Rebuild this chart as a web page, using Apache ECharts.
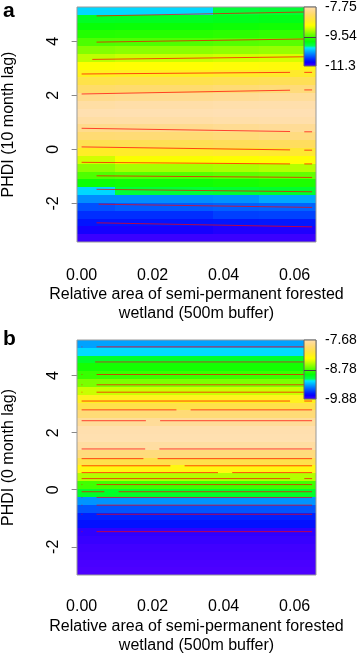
<!DOCTYPE html>
<html>
<head>
<meta charset="utf-8">
<title>PHDI surface</title>
<script src="https://cdn.jsdelivr.net/npm/echarts@6.0.0/dist/echarts.min.js"></script>
<style>
    html, body { margin: 0; padding: 0; background: #fff; }
    #main { width: 358px; height: 656px; }
</style>
</head>
<body>
<div id="main"></div>
<script>
var FONT = 'Liberation Sans, Arial, sans-serif';

/*axis ticks*/
var xTicks = [0, 0.01, 0.02, 0.03, 0.04, 0.05, 0.06];
var xLabels = [0, 0.02, 0.04, 0.06];
var yTicks = [-2, 0, 2, 4];
var legendLabelsA = ['-11.3', '-9.54', '-7.75'];
var legendLabelsB = ['-9.88', '-8.78', '-7.68'];
var zRangeA = [-11.3, -7.75];
var zRangeB = [-9.88, -7.68];

/*topo.colors, low -> high*/
var topoColors = ['#4D00FF', '#2B00FF', '#0900FF', '#001AFF', '#003CFF', '#005EFF', '#0080FF', '#00A2FF', '#00C4FF', '#00E6FF',
    '#00FF4D', '#00FF2B', '#00FF09', '#1AFF00', '#3CFF00', '#5EFF00', '#80FF00', '#A2FF00', '#C4FF00', '#E6FF00',
    '#FFFF00', '#FFF514', '#FFEC28', '#FFE53B', '#FFE04F', '#FFDC63', '#FFDB77', '#FFDB8B', '#FFDD9F', '#FFE0B3'];

/*panel a grid (rows top -> bottom)*/
var xEdgesA = [-0.0013, 0.0095, 0.037, 0.050, 0.066];
var yEdgesA = [5.27, 4.98, 4.69, 4.40, 4.11, 3.82, 3.53, 3.24, 2.95, 2.66, 2.37, 2.08, 1.79, 1.50, 1.21, 0.92,
    0.63, 0.34, 0.05, -0.24, -0.53, -0.82, -1.11, -1.40, -1.69, -1.98, -2.27, -2.56, -2.85, -3.14, -3.43];
var zA = [
    [-10.25, -10.25, -10.00, -9.98],
    [-9.93, -9.92, -9.90, -9.88],
    [-9.80, -9.79, -9.77, -9.75],
    [-9.68, -9.67, -9.65, -9.63],
    [-9.53, -9.52, -9.50, -9.48],
    [-9.33, -9.30, -9.28, -9.26],
    [-9.12, -9.08, -9.05, -9.03],
    [-8.86, -8.84, -8.81, -8.79],
    [-8.66, -8.63, -8.60, -8.58],
    [-8.40, -8.38, -8.35, -8.32],
    [-8.20, -8.17, -8.13, -8.10],
    [-7.98, -7.96, -7.93, -7.90],
    [-7.84, -7.82, -7.80, -7.79],
    [-7.77, -7.76, -7.75, -7.75],
    [-7.84, -7.83, -7.81, -7.80],
    [-7.99, -7.98, -7.95, -7.93],
    [-8.14, -8.13, -8.10, -8.07],
    [-8.35, -8.33, -8.30, -8.27],
    [-8.62, -8.60, -8.57, -8.54],
    [-9.05, -8.88, -8.86, -8.83],
    [-9.30, -9.20, -9.18, -9.15],
    [-9.52, -9.50, -9.47, -9.45],
    [-9.78, -9.76, -9.73, -9.70],
    [-10.25, -10.00, -9.98, -9.96],
    [-10.52, -10.52, -10.50, -10.42],
    [-10.74, -10.70, -10.68, -10.67],
    [-10.86, -10.86, -10.80, -10.79],
    [-10.96, -10.96, -10.95, -10.94],
    [-11.10, -11.10, -11.13, -11.13],
    [-11.23, -11.23, -11.23, -11.23]
];
// level, x0, y0, x1, y1, labelX, labelY
var contourA = [
    [-10, 0.0042, 4.94, 0.0649, 5.09, 0.0022, 4.94],
    [-9.5, 0.0042, 3.97, 0.0649, 4.09, 0.0022, 3.97],
    [-9, 0.0030, 3.33, 0.0649, 3.43, 0.0015, 3.33],
    [-8.5, 0, 2.79, 0.0587, 2.85, 0.0607, 2.85],
    [-8, 0, 2.05, 0.0587, 2.19, 0.0607, 2.20],
    [-8, 0, 0.78, 0.0587, 0.66, 0.0607, 0.65],
    [-8.5, 0, 0.09, 0.0587, -0.02, 0.0607, -0.03],
    [-9, 0, -0.48, 0.0587, -0.54, 0.0607, -0.54],
    [-9.5, 0.0042, -0.98, 0.0649, -1.04, 0.0022, -0.98],
    [-10, 0.0042, -1.48, 0.0649, -1.57, 0.0022, -1.48],
    [-10.5, 0.0048, -2.03, 0.0649, -2.15, 0.0024, -2.03],
    [-11, 0.0042, -2.72, 0.0649, -2.87, 0.0022, -2.72]
];

/*panel b grid*/
var xEdgesB = [-0.0013, 0.066];
var yEdgesB = [5.25, 4.98, 4.70, 4.43, 4.15, 3.88, 3.60, 3.33, 3.05, 2.78, 2.50, 2.23, 1.95, 1.68, 1.40, 1.13,
    0.85, 0.58, 0.30, 0.03, -0.25, -0.52, -0.80, -1.07, -1.35, -1.62, -1.90, -2.17, -2.45, -2.72, -2.99];
var zB = [-9.35, -9.22, -9.05, -8.91, -8.83, -8.68, -8.50, -8.25, -8.08, -7.91, -7.78, -7.70, -7.69, -7.75, -7.89,
    -8.08, -8.30, -8.55, -8.81, -9.04, -9.38, -9.52, -9.64, -9.68, -9.81, -9.83, -9.85, -9.86, -9.87, -9.88];
// level, y, labelX
var contourB = [
    [-9.2, 5.01, 0.0022],
    [-9, 4.48, 0.0018],
    [-8.8, 4.04, 0.0022],
    [-8.6, 3.68, 0.0022],
    [-8.4, 3.42, 0.0022],
    [-8.2, 3.11, 0.0607],
    [-8, 2.80, 0.0287],
    [-7.8, 2.42, 0.0201],
    [-7.8, 1.43, 0.0199],
    [-8, 1.09, 0.0194],
    [-8.2, 0.84, 0.0270],
    [-8.4, 0.60, 0.0404],
    [-8.6, 0.39, 0.0607],
    [-8.8, 0.18, 0.0022],
    [-9, -0.07, 0.0084],
    [-9.2, -0.27, 0.0022],
    [-9.4, -0.54, 0.0022],
    [-9.6, -0.86, 0.0022],
    [-9.8, -1.47, 0.0022]
];

var LINE_END = 0.0649;
var GAP = 0.002;
var BREAK = ['-', '-'];

function buildCells(xEdges, yEdges, rows) {
    var cells = [];
    for (var i = 0; i < rows.length; i++) {
        var row = Array.isArray(rows[i]) ? rows[i] : [rows[i]];
        for (var j = 0; j < xEdges.length - 1; j++) {
            cells.push([xEdges[j], xEdges[j + 1], yEdges[i + 1], yEdges[i], row[j]]);
        }
    }
    return cells;
}

function renderCell(params, api) {
    var p0 = api.coord([api.value(0), api.value(3)]);
    var p1 = api.coord([api.value(1), api.value(2)]);
    var x0 = Math.round(p0[0]);
    var y0 = Math.round(p0[1]);
    return {
        type: 'rect',
        shape: { x: x0, y: y0, width: Math.round(p1[0]) - x0, height: Math.round(p1[1]) - y0 },
        style: { fill: api.visual('color') }
    };
}

function renderLegend(params, api) {
    var top = api.coord([0, 2]);
    var bottom = api.coord([1, 0]);
    var mid = api.coord([0, 1]);
    var stops = [];
    for (var k = 0; k < topoColors.length; k++) {
        stops.push({ offset: k / (topoColors.length - 1), color: topoColors[k] });
    }
    return {
        type: 'group',
        children: [{
            type: 'rect',
            shape: { x: top[0], y: top[1], width: bottom[0] - top[0], height: bottom[1] - top[1] },
            style: {
                fill: new echarts.graphic.LinearGradient(0, 1, 0, 0, stops),
                stroke: '#666',
                lineWidth: 1
            }
        }, {
            type: 'line',
            shape: { x1: top[0], y1: Math.round(mid[1]) + 0.5, x2: bottom[0], y2: Math.round(mid[1]) + 0.5 },
            style: { stroke: '#444', lineWidth: 1 }
        }]
    };
}

/*contour polylines of panel a, label gap on the right side gets a short tail*/
function linesA() {
    var out = [];
    for (var i = 0; i < contourA.length; i++) {
        var c = contourA[i];
        out.push([c[1], c[2]], [c[3], c[4]], BREAK);
        if (c[5] > c[3]) {
            out.push([c[5] + GAP, c[6]], [LINE_END, c[6]], BREAK);
        }
    }
    return out;
}

function linesB() {
    var out = [];
    for (var i = 0; i < contourB.length; i++) {
        var c = contourB[i];
        var gapL = c[2] - GAP;
        var gapR = c[2] + GAP;
        if (gapL > 0) {
            out.push([0, c[1]], [gapL, c[1]], BREAK);
        }
        if (gapR < LINE_END) {
            out.push([gapR, c[1]], [LINE_END, c[1]], BREAK);
        }
    }
    return out;
}

function labelsA() {
    return contourA.map(function (c) { return [c[5], c[6], c[0]]; });
}

function labelsB() {
    return contourB.map(function (c) { return [c[2], c[1], c[0]]; });
}

function plotXAxis(gridIndex, labelMargin) {
    return {
        gridIndex: gridIndex,
        type: 'value',
        min: -0.0013,
        max: 0.066,
        name: 'Relative area of semi-permanent forested\nwetland (500m buffer)',
        nameLocation: 'middle',
        nameGap: 42,
        nameTextStyle: { fontSize: 16, lineHeight: 19, color: '#000', fontFamily: FONT },
        axisLine: { show: false },
        axisTick: { show: true, length: 8, customValues: xTicks, lineStyle: { color: '#888', width: 1 } },
        axisLabel: {
            customValues: xLabels,
            margin: labelMargin,
            fontSize: 16,
            color: '#000',
            fontFamily: FONT,
            formatter: function (v) { return v.toFixed(2); }
        },
        splitLine: { show: false }
    };
}

function plotYAxis(gridIndex, min, max, title) {
    return {
        gridIndex: gridIndex,
        type: 'value',
        min: min,
        max: max,
        name: title,
        nameLocation: 'middle',
        nameGap: 60,
        nameTextStyle: { fontSize: 16, color: '#000', fontFamily: FONT },
        axisLine: { show: false },
        axisTick: { show: true, length: 10, customValues: yTicks, lineStyle: { color: '#888', width: 1 } },
        axisLabel: {
            customValues: yTicks,
            rotate: 90,
            margin: 15,
            fontSize: 16,
            color: '#000',
            fontFamily: FONT
        },
        splitLine: { show: false }
    };
}

function legendYAxis(gridIndex, labels) {
    return {
        gridIndex: gridIndex,
        type: 'value',
        position: 'right',
        min: 0,
        max: 2,
        interval: 1,
        axisLine: { show: false },
        axisTick: { show: false },
        splitLine: { show: false },
        axisLabel: {
            margin: 9,
            fontSize: 14,
            color: '#000',
            fontFamily: FONT,
            formatter: function (v) { return labels[v]; }
        }
    };
}

var chart = echarts.init(document.getElementById('main'));

var contourLine = { color: 'rgba(255,0,0,0.7)', width: 1 };
var contourLabel = {
    show: true,
    position: 'inside',
    fontSize: 6,
    color: 'rgba(235,30,0,0.85)',
    fontFamily: FONT,
    formatter: function (p) { return String(p.value[2]); }
};

var plotGrid = { show: true, z: 4, borderColor: '#999', borderWidth: 1, backgroundColor: 'transparent', outerBoundsMode: 'none' };

var option = {
    animation: false,
    title: [
        { text: 'a', left: 3, top: 1, padding: 0, textStyle: { fontSize: 21, fontWeight: 'bold', color: '#000', fontFamily: FONT } },
        { text: 'b', left: 3, top: 329, padding: 0, textStyle: { fontSize: 21, fontWeight: 'bold', color: '#000', fontFamily: FONT } }
    ],
    grid: [
        echarts.util.extend({ left: 77, top: 7, width: 239, height: 235 }, plotGrid),
        echarts.util.extend({ left: 77, top: 340, width: 239, height: 235 }, plotGrid),
        { left: 304, top: 7, width: 12, height: 59, outerBoundsMode: 'none' },
        { left: 304, top: 340, width: 12, height: 59, outerBoundsMode: 'none' }
    ],
    xAxis: [
        plotXAxis(0, 26),
        plotXAxis(1, 24),
        { gridIndex: 2, type: 'value', min: 0, max: 1, show: false },
        { gridIndex: 3, type: 'value', min: 0, max: 1, show: false }
    ],
    yAxis: [
        plotYAxis(0, -3.43, 5.27, 'PHDI (10 month lag)'),
        plotYAxis(1, -2.99, 5.25, 'PHDI (0 month lag)'),
        legendYAxis(2, legendLabelsA),
        legendYAxis(3, legendLabelsB)
    ],
    visualMap: [
        { type: 'continuous', show: false, seriesIndex: 0, dimension: 4, min: zRangeA[0], max: zRangeA[1], inRange: { color: topoColors } },
        { type: 'continuous', show: false, seriesIndex: 3, dimension: 4, min: zRangeB[0], max: zRangeB[1], inRange: { color: topoColors } }
    ],
    series: [
        {
            type: 'custom', xAxisIndex: 0, yAxisIndex: 0, clip: true, silent: true,
            encode: { x: [0, 1], y: [2, 3] },
            renderItem: renderCell,
            data: buildCells(xEdgesA, yEdgesA, zA)
        },
        {
            type: 'line', xAxisIndex: 0, yAxisIndex: 0, z: 5, silent: true, symbol: 'none',
            lineStyle: contourLine, data: linesA()
        },
        {
            type: 'scatter', xAxisIndex: 0, yAxisIndex: 0, z: 6, silent: true, symbolSize: 1,
            itemStyle: { opacity: 0 }, label: contourLabel, data: labelsA()
        },
        {
            type: 'custom', xAxisIndex: 1, yAxisIndex: 1, clip: true, silent: true,
            encode: { x: [0, 1], y: [2, 3] },
            renderItem: renderCell,
            data: buildCells(xEdgesB, yEdgesB, zB)
        },
        {
            type: 'line', xAxisIndex: 1, yAxisIndex: 1, z: 5, silent: true, symbol: 'none',
            lineStyle: contourLine, data: linesB()
        },
        {
            type: 'scatter', xAxisIndex: 1, yAxisIndex: 1, z: 6, silent: true, symbolSize: 1,
            itemStyle: { opacity: 0 }, label: contourLabel, data: labelsB()
        },
        {
            type: 'custom', xAxisIndex: 2, yAxisIndex: 2, z: 10, silent: true,
            renderItem: renderLegend, data: [[0, 0]]
        },
        {
            type: 'custom', xAxisIndex: 3, yAxisIndex: 3, z: 10, silent: true,
            renderItem: renderLegend, data: [[0, 0]]
        }
    ]
};

chart.setOption(option);
</script>
</body>
</html>
